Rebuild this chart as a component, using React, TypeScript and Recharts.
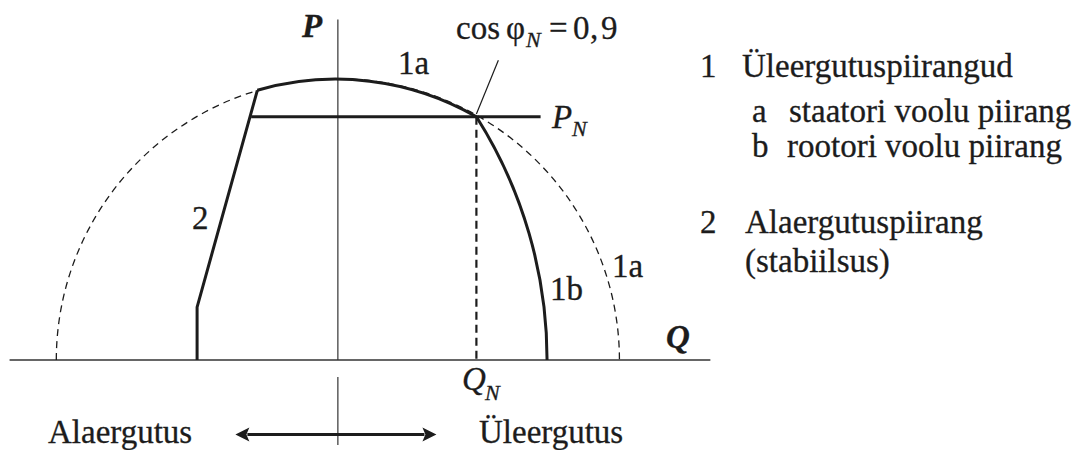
import React from 'react';
import { LineChart, Line, XAxis, YAxis, ReferenceLine } from 'recharts';

const W = 1084;
const H = 450;
const INK = '#1c1c1c';
const SERIF = "'Liberation Serif', 'Times New Roman', Times, serif";

// P-Q capability diagram, per-unit values
const STATOR_RADIUS = 1.0;
const RATED_Q = 0.492;
const RATED_P = 0.865;
const ROTOR_END_Q = 0.743;
const ROTOR_RADIUS = 1.615;

// under-excitation (stability) limit, curve 2
const stabilityQ = [-0.286, -0.5, -0.5];
const stabilityP = [0.959, 0.188, 0];

// rated power line P_N
const ratedLineQ = [-0.308, 0.72];

// axes and annotations
const qAxisRange = [-1.166, 1.323];
const pAxisTop = 1.211;
const pAxisTail = [-0.06, -0.302];
const leaderTop = { q: 0.57, p: 1.066 };
const arrowQ = [-0.364, 0.35];
const arrowP = -0.265;

const stabilityData = stabilityQ.map((q, i) => ({ q, p: stabilityP[i] }));
const ratedLineData = ratedLineQ.map((q) => ({ q, p: RATED_P }));
const ratedDropData = [
  { q: RATED_Q, p: RATED_P },
  { q: RATED_Q, p: 0 },
];
const stabilityTop = stabilityData[0];
const ratedPoint = { q: RATED_Q, p: RATED_P };

type Pt = { q: number; p: number };

// circular arc between two points of a segment, radius given in data units
const arcShape =
  (from: Pt, to: Pt, radius: number, width: number, dash?: string) =>
  (props: any) => {
    const { x1, y1, x2, y2 } = props;
    const sx = Math.abs((x2 - x1) / (to.q - from.q));
    const sy = Math.abs((y2 - y1) / (to.p - from.p));
    return (
      <path
        d={`M${x1},${y1} A${radius * sx},${radius * sy} 0 0 1 ${x2},${y2}`}
        fill="none"
        stroke={INK}
        strokeWidth={width}
        strokeDasharray={dash}
      />
    );
  };

// half circle: segment runs from the left end to the top, path mirrors to the right end
const halfCircleShape = (props: any) => {
  const { x1, y1, x2, y2 } = props;
  const rx = Math.abs(x2 - x1);
  const ry = Math.abs(y2 - y1);
  return (
    <path
      d={`M${x1},${y1} A${rx},${ry} 0 0 1 ${x1 + 2 * rx},${y1}`}
      fill="none"
      stroke={INK}
      strokeWidth={1.3}
      strokeDasharray="7 5"
    />
  );
};

const doubleArrowShape = (props: any) => {
  const { x1, y1, x2 } = props;
  const len = 14;
  const half = 7;
  return (
    <g fill={INK}>
      <line x1={x1 + len - 2} y1={y1} x2={x2 - len + 2} y2={y1} stroke={INK} strokeWidth={3} />
      <polygon points={`${x1},${y1} ${x1 + len},${y1 - half} ${x1 + len - 3},${y1} ${x1 + len},${y1 + half}`} />
      <polygon points={`${x2},${y1} ${x2 - len},${y1 - half} ${x2 - len + 3},${y1} ${x2 - len},${y1 + half}`} />
    </g>
  );
};

const Labels = () => (
  <svg
    width={W}
    height={H}
    style={{ position: 'absolute', left: 0, top: 0, pointerEvents: 'none', fontFamily: SERIF }}
    fill={INK}
    stroke={INK}
    strokeWidth={0.3}
  >
    <text x={302} y={37} fontSize={33} fontWeight="bold" fontStyle="italic">P</text>
    <text x={666} y={348} fontSize={33} fontWeight="bold" fontStyle="italic">Q</text>

    <text y={39} fontSize={33}>
      <tspan x={456}>cos</tspan>
      <tspan x={506}>φ</tspan>
      <tspan x={526} y={47} fontSize={22} fontStyle="italic">N</tspan>
      <tspan x={549} y={39}>=</tspan>
      <tspan x={573}>0</tspan>
      <tspan x={590}>,</tspan>
      <tspan x={601}>9</tspan>
    </text>

    <text x={398} y={74} fontSize={33}>1a</text>
    <text x={612} y={277} fontSize={33}>1a</text>
    <text x={550} y={300} fontSize={33}>1b</text>
    <text x={192} y={229} fontSize={33}>2</text>

    <text y={128} fontSize={33} fontStyle="italic">
      <tspan x={552}>P</tspan>
      <tspan x={572} y={136} fontSize={22}>N</tspan>
    </text>
    <text y={390} fontSize={33} fontStyle="italic">
      <tspan x={462}>Q</tspan>
      <tspan x={485} y={400} fontSize={22}>N</tspan>
    </text>

    <text x={48} y={443} fontSize={33}>Alaergutus</text>
    <text x={479} y={443} fontSize={33}>Üleergutus</text>

    <g fontSize={33}>
      <text x={700} y={77}>1</text>
      <text x={742} y={77}>Üleergutuspiirangud</text>
      <text x={752} y={122}>a</text>
      <text x={789} y={122}>staatori voolu piirang</text>
      <text x={752} y={157}>b</text>
      <text x={787} y={157}>rootori voolu piirang</text>
      <text x={700} y={233}>2</text>
      <text x={745} y={233}>Alaergutuspiirang</text>
      <text x={745} y={272}>(stabiilsus)</text>
    </g>
  </svg>
);

export default function App() {
  return (
    <div style={{ position: 'absolute', left: 0, top: 0, width: W, height: H, background: '#fff' }}>
      <LineChart width={W} height={H} margin={{ top: 0, right: 0, bottom: 0, left: 0 }}>
        <XAxis type="number" dataKey="q" domain={[-1.2, 2.65]} hide allowDataOverflow />
        <YAxis type="number" dataKey="p" domain={[-0.32, 1.28]} hide allowDataOverflow />

        {/* axes */}
        <ReferenceLine
          segment={[{ x: qAxisRange[0], y: 0 }, { x: qAxisRange[1], y: 0 }]}
          stroke="#333"
          strokeWidth={1.3}
          ifOverflow="visible"
        />
        <ReferenceLine
          segment={[{ x: 0, y: 0 }, { x: 0, y: pAxisTop }]}
          stroke="#333"
          strokeWidth={1.2}
          ifOverflow="visible"
        />
        <ReferenceLine
          segment={[{ x: 0, y: pAxisTail[0] }, { x: 0, y: pAxisTail[1] }]}
          stroke="#333"
          strokeWidth={1.2}
          ifOverflow="visible"
        />

        {/* stator current limit, full circle dashed */}
        <ReferenceLine
          segment={[{ x: -STATOR_RADIUS, y: 0 }, { x: 0, y: STATOR_RADIUS }]}
          shape={halfCircleShape}
          ifOverflow="visible"
        />
        {/* 1a: active part of stator limit */}
        <ReferenceLine
          segment={[{ x: stabilityTop.q, y: stabilityTop.p }, { x: RATED_Q, y: RATED_P }]}
          shape={arcShape(stabilityTop, ratedPoint, STATOR_RADIUS, 3)}
          ifOverflow="visible"
        />
        {/* 1b: rotor current limit */}
        <ReferenceLine
          segment={[{ x: RATED_Q, y: RATED_P }, { x: ROTOR_END_Q, y: 0 }]}
          shape={arcShape(ratedPoint, { q: ROTOR_END_Q, p: 0 }, ROTOR_RADIUS, 3)}
          ifOverflow="visible"
        />

        {/* leader to the rated point */}
        <ReferenceLine
          segment={[{ x: leaderTop.q, y: leaderTop.p }, { x: RATED_Q, y: RATED_P + 0.01 }]}
          stroke={INK}
          strokeWidth={1.2}
          ifOverflow="visible"
        />

        <Line
          data={ratedDropData}
          dataKey="p"
          stroke={INK}
          strokeWidth={2.2}
          strokeDasharray="8 5"
          dot={false}
          activeDot={false}
          isAnimationActive={false}
        />
        <Line
          data={ratedLineData}
          dataKey="p"
          stroke={INK}
          strokeWidth={3}
          dot={false}
          activeDot={false}
          isAnimationActive={false}
        />
        <Line
          data={stabilityData}
          dataKey="p"
          type="linear"
          stroke={INK}
          strokeWidth={3}
          strokeLinejoin="miter"
          dot={false}
          activeDot={false}
          isAnimationActive={false}
        />

        {/* under / over excitation arrow */}
        <ReferenceLine
          segment={[{ x: arrowQ[0], y: arrowP }, { x: arrowQ[1], y: arrowP }]}
          shape={doubleArrowShape}
          ifOverflow="visible"
        />
      </LineChart>
      <Labels />
    </div>
  );
}
